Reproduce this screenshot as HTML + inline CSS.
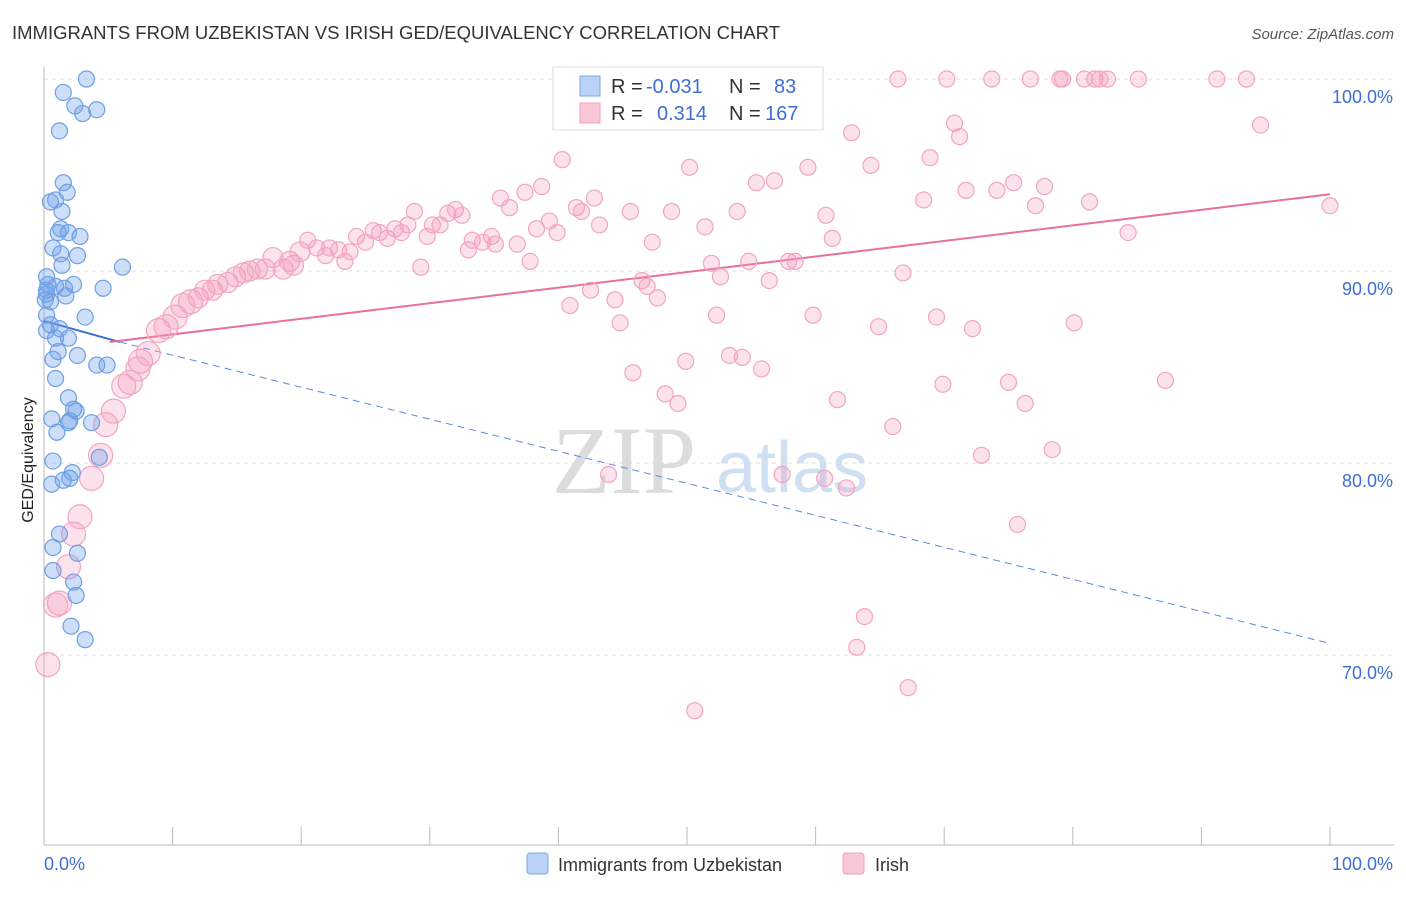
<!DOCTYPE html>
<html><head><meta charset="utf-8"><style>
body{margin:0;background:#fff;font-family:"Liberation Sans",sans-serif;}
</style></head><body>
<svg id="chart" width="1406" height="892" xmlns="http://www.w3.org/2000/svg">
<text x="12" y="39" font-size="18" fill="#333" textLength="768" lengthAdjust="spacingAndGlyphs">IMMIGRANTS FROM UZBEKISTAN VS IRISH GED/EQUIVALENCY CORRELATION CHART</text>
<text x="1394" y="39" font-size="15" fill="#555" font-style="italic" text-anchor="end">Source: ZipAtlas.com</text>
<text x="33" y="460" font-size="16" fill="#222" text-anchor="middle" transform="rotate(-90 33 460)">GED/Equivalency</text>
<g>
<text x="552" y="493" font-size="96" fill="#dcdcdc" font-family="Liberation Serif,serif">ZIP</text>
<text x="716" y="492" font-size="72" fill="#cfe0f3">atlas</text>
</g>
<g id="grid"></g><g id="axes"></g><g id="trends"></g><g id="points"></g>
<g>
<rect x="553" y="67" width="270" height="63" fill="#fff" stroke="#ddd"/>
<rect x="580" y="76" width="20" height="20" fill="#b9d2f5" stroke="#7aa5e3"/>
<rect x="580" y="103" width="20" height="20" fill="#f9c6d7" stroke="#f0a0bc"/>
<g font-size="20" fill="#333">
<text x="611" y="93">R =</text>
<text x="646" y="93" fill="#3d6fd6">-0.031</text>
<text x="729" y="93">N =</text>
<text x="774" y="93" fill="#3d6fd6">83</text>
<text x="611" y="120">R =</text>
<text x="657" y="120" fill="#3d6fd6">0.314</text>
<text x="729" y="120">N =</text>
<text x="765" y="120" fill="#3d6fd6">167</text>
</g>
</g>
<g>
<rect x="527" y="853" width="21" height="21" rx="3" fill="#b9d2f5" stroke="#7aa5e3"/>
<text x="558" y="871" font-size="18" fill="#333">Immigrants from Uzbekistan</text>
<rect x="843" y="853" width="21" height="21" rx="3" fill="#f9c6d7" stroke="#f0a0bc"/>
<text x="875" y="871" font-size="18" fill="#333">Irish</text>
</g>
</svg>
<script>
const yTicks=[70,80,90,100];
const yTickLabels=["70.0%","80.0%","90.0%","100.0%"];
const xTicks=[0,10,20,30,40,50,60,70,80,90,100];
const blueX=[3.3,1.5,2.4,4.1,3.0,1.2,1.5,1.8,0.9,0.5,1.4,1.3,1.9,1.1,2.8,0.7,1.3,2.6,1.4,6.1,0.2,0.3,0.9,1.6,2.3,4.6,0.2,1.7,0.5,3.2,0.2,0.5,1.2,1.9,0.2,0.9,1.1,2.6,0.7,4.1,4.9,0.9,1.9,2.3,2.5,2.0,1.9,3.7,1.0,0.6,0.7,4.3,2.2,2.0,1.5,0.6,1.2,2.6,0.7,0.7,2.3,2.5,2.1,3.2,0.2,0.1];
const blueY=[100,99.3,98.6,98.4,98.2,97.3,94.6,94.1,93.7,93.6,93.1,92.2,92.0,92.0,91.8,91.2,90.9,90.8,90.3,90.2,89.7,89.3,89.2,89.1,89.3,89.1,88.8,88.7,88.4,87.6,87.7,87.2,87.0,86.5,86.9,86.5,85.8,85.6,85.4,85.1,85.1,84.4,83.4,82.8,82.7,82.2,82.1,82.1,81.6,82.3,80.1,80.3,79.5,79.2,79.1,78.9,76.3,75.3,75.6,74.4,73.8,73.1,71.5,70.8,89.0,88.5];
const pinkX=[0.3,1.2,0.9,1.9,2.3,2.8,3.7,4.4,4.8,5.4,6.2,6.7,7.3,7.5,8.1,8.9,9.5,10.2,10.8,11.4,12.0,12.5,13.1,13.5,14.3,14.9,15.5,16.0,16.6,17.2,17.8,18.6,19.1,19.4,19.9,20.5,21.2,21.9,22.2,22.9,23.4,23.8,24.3,25.0,25.6,26.1,26.7,27.3,27.8,28.3,28.8,29.3,29.8,30.2,30.8,31.4,32.0,32.5,33.0,33.3,34.1,34.8,35.1,35.5,36.2,36.8,37.4,37.8,38.3,38.7,39.3,39.9,40.3,40.9,41.4,41.8,42.5,42.8,43.2,43.9,44.4,44.8,45.6,45.8,46.5,46.9,47.3,47.7,48.3,48.8,49.3,49.9,50.2,50.6,51.4,51.9,52.3,52.6,53.3,53.9,54.3,54.8,55.4,55.8,56.4,56.8,57.4,57.9,58.4,59.4,59.8,60.7,60.8,61.3,61.7,62.4,62.8,63.2,63.8,64.3,64.9,66.0,66.4,66.8,67.2,68.4,68.9,69.4,69.9,70.2,70.8,71.2,71.7,72.2,72.9,73.7,74.1,75.0,75.4,75.7,76.7,77.1,77.8,78.4,79.0,80.1,80.9,81.3,81.7,82.1,82.7,84.3,85.1,87.2,91.2,93.5,94.6,100,76.3,79.2];
const pinkY=[69.5,72.7,72.6,74.6,76.3,77.2,79.2,80.4,82.0,82.7,84.0,84.2,84.9,85.3,85.7,86.9,87.1,87.6,88.2,88.4,88.6,89.0,89.0,89.3,89.4,89.7,89.9,90.0,90.1,90.1,90.7,90.1,90.5,90.3,91.0,91.6,91.2,90.8,91.2,91.1,90.5,91.0,91.8,91.5,92.1,92.0,91.7,92.2,92.0,92.4,93.1,90.2,91.8,92.4,92.4,93.0,93.2,92.9,91.1,91.6,91.5,91.8,91.4,93.8,93.3,91.4,94.1,90.5,92.2,94.4,92.6,92.0,95.8,88.2,93.3,93.1,89.0,93.8,92.4,79.4,88.5,87.3,93.1,84.7,89.5,89.2,91.5,88.6,83.6,93.1,83.1,85.3,95.4,67.1,92.3,90.4,87.7,89.7,85.6,93.1,85.5,90.5,94.6,84.9,89.5,94.7,79.4,90.5,90.5,95.4,87.7,79.2,92.9,91.7,83.3,78.7,97.2,70.4,72.0,95.5,87.1,81.9,100,89.9,68.3,93.7,95.9,87.6,84.1,100,97.7,97.0,94.2,87.0,80.4,100,94.2,84.2,94.6,76.8,100,93.4,94.4,80.7,100,87.3,100,93.6,100,100,100,92.0,100,84.3,100,100,97.6,93.4,83.1,100];
const blueTrendX=[0,5.9,100];
const blueTrendY=[87.4,86.3,70.6];
const pinkTrendX=[5.1,100];
const pinkTrendY=[86.3,94.0];

const NS="http://www.w3.org/2000/svg";
const X=v=>44+v*12.86;
const Y=v=>79+(100-v)*19.2;
function mk(tag,attrs,parent){const e=document.createElementNS(NS,tag);for(const k in attrs)e.setAttribute(k,attrs[k]);document.getElementById(parent).appendChild(e);return e;}
yTicks.forEach((t,i)=>{
 const l=mk('line',{x1:44,x2:1394,y1:Y(t),y2:Y(t),stroke:'#ddd','stroke-dasharray':'4 4'},'grid');
 
 
 const tx=mk('text',{x:1393,y:Y(t)+24,'font-size':18,fill:'#3d6fd6','text-anchor':'end'},'grid');
 tx.textContent=yTickLabels[i];
 
 
});
const ax=mk('line',{x1:44,x2:1394,y1:845,y2:845,stroke:'#bbb'},'axes');


const ay=mk('line',{x1:44,x2:44,y1:67,y2:845,stroke:'#bbb'},'axes');


xTicks.forEach(t=>{
 const l=mk('line',{x1:X(t),x2:X(t),y1:827,y2:845,stroke:'#bbb'},'axes');
 
 
});
const xl0=mk('text',{x:44,y:870,'font-size':18,fill:'#3d6fd6'},'axes');xl0.textContent='0.0%';


const xl1=mk('text',{x:1393,y:870,'font-size':18,fill:'#3d6fd6','text-anchor':'end'},'axes');xl1.textContent='100.0%';



pinkX.forEach((x,i)=>{
 const c=mk('circle',{cx:X(x),cy:Y(pinkY[i]),r:x<12?12:(x<20?10:8),fill:'rgba(244,150,185,0.28)',stroke:'#f2a5c0','stroke-width':1.2},'points');
 
 
});
blueX.forEach((x,i)=>{
 const c=mk('circle',{cx:X(x),cy:Y(blueY[i]),r:8,fill:'rgba(110,160,235,0.35)',stroke:'#6f9fe2','stroke-width':1.2},'points');
 
 
});
const b1=mk('line',{x1:X(blueTrendX[0]),y1:Y(blueTrendY[0]),x2:X(blueTrendX[1]),y2:Y(blueTrendY[1]),stroke:'#3a6fd0','stroke-width':2},'trends');


const b2=mk('line',{x1:X(blueTrendX[1]),y1:Y(blueTrendY[1]),x2:X(blueTrendX[2]),y2:Y(blueTrendY[2]),stroke:'#5a8ade','stroke-width':1,'stroke-dasharray':'7 5'},'trends');


const p1=mk('line',{x1:X(pinkTrendX[0]),y1:Y(pinkTrendY[0]),x2:X(pinkTrendX[1]),y2:Y(pinkTrendY[1]),stroke:'#e8709a','stroke-width':2},'trends');


</script>
</body></html>
